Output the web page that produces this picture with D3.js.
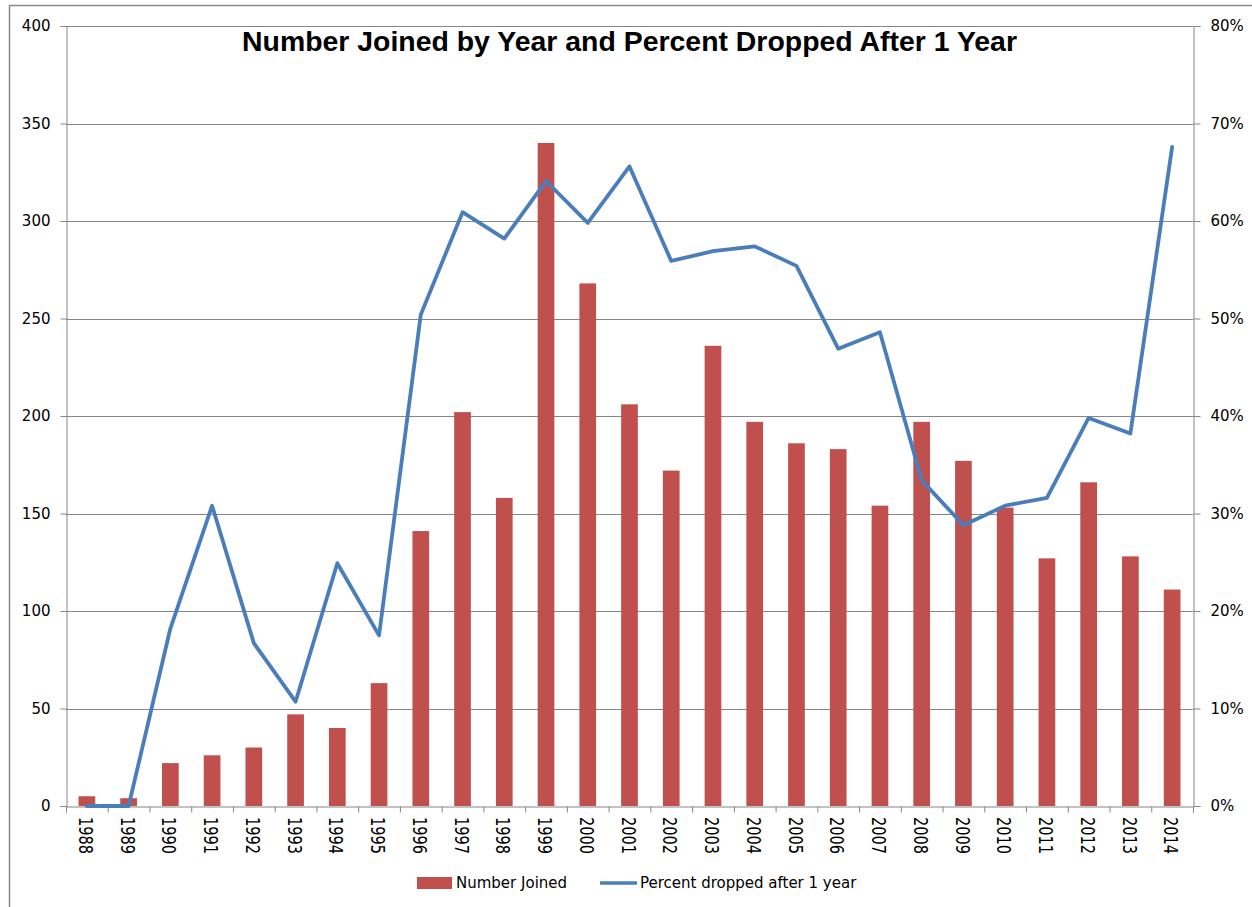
<!DOCTYPE html>
<html>
<head>
<meta charset="utf-8">
<script src="https://cdn.jsdelivr.net/npm/d3@7"></script>
<style>
  body { margin: 0; background: #fff; }
  svg { display: block; }
</style>
</head>
<body>
<svg width="1252" height="907"></svg>
<script>
// data
var years = ["1988","1989","1990","1991","1992","1993","1994","1995","1996","1997","1998","1999","2000",
  "2001","2002","2003","2004","2005","2006","2007","2008","2009","2010","2011","2012","2013","2014"];
var joined = [5,4,22,26,30,47,40,63,141,202,158,340,268,206,172,236,197,186,183,154,197,177,153,127,166,128,111];
var dropped = [0,0,18.2,30.8,16.7,10.7,24.9,17.5,50.4,60.9,58.2,64.1,59.8,65.6,55.9,56.9,57.4,55.4,46.9,48.6,33.4,28.8,30.8,31.6,39.8,38.2,67.6];
var leftTicks = [0,50,100,150,200,250,300,350,400];
var rightTicks = [0,10,20,30,40,50,60,70,80];

var svg = d3.select("svg");
var pLeft = 66, pRight = 1193, pTop = 26, pBottom = 806;
var axisColor = "#868686";
var font = "DejaVu Sans, sans-serif";

// chart frame
svg.append("rect")
  .attr("x", 9.5).attr("y", 5.5).attr("width", 1300).attr("height", 1000)
  .attr("fill", "#fff").attr("stroke", "#8c8c8c").attr("stroke-width", 1.5);

//scales
var x = d3.scaleBand().domain(years).range([pLeft, pRight]).paddingInner(0.6).paddingOuter(0.3);
var xEdge = d3.scaleLinear().domain([0, years.length]).range([pLeft, pRight]);
var y = d3.scaleLinear().domain([0, 400]).range([pBottom, pTop]);
var y2 = d3.scaleLinear().domain([0, 80]).range([pBottom, pTop]);

// gridlines
svg.append("g").selectAll("line")
  .data(leftTicks.slice(1))
  .enter().append("line")
    .attr("x1", pLeft).attr("x2", pRight)
    .attr("y1", function(d){ return Math.round(y(d)) + 0.5; })
    .attr("y2", function(d){ return Math.round(y(d)) + 0.5; })
    .attr("stroke", axisColor).attr("stroke-width", 1);

// bars
svg.append("g").selectAll("rect")
  .data(joined)
  .enter().append("rect")
    .attr("x", function(d, i){ return x(years[i]); })
    .attr("width", x.bandwidth())
    .attr("y", function(d){ return y(d); })
    .attr("height", function(d){ return pBottom - y(d); })
    .attr("fill", "#C0504D");

// left axis
var gLeft = svg.append("g").attr("transform", "translate(" + (pLeft + 0.5) + ",0)")
  .call(d3.axisLeft(y).tickValues(leftTicks).tickSize(6).tickPadding(10));
// right axis
var gRight = svg.append("g").attr("transform", "translate(" + (pRight + 0.5) + ",0)")
  .call(d3.axisRight(y2).tickValues(rightTicks).tickSize(7).tickPadding(10)
    .tickFormat(function(d){ return d + "%"; }));
// bottom axis (tick marks on category edges)
var gBottom = svg.append("g").attr("transform", "translate(0," + (pBottom + 0.5) + ")")
  .call(d3.axisBottom(xEdge).tickValues(d3.range(years.length + 1)).tickSize(6).tickFormat(""));

[gLeft, gRight, gBottom].forEach(function(g){
  g.select(".domain").attr("stroke", axisColor);
  g.selectAll(".tick line").attr("stroke", axisColor);
  g.selectAll("text").attr("font-family", font).attr("font-size", 15).attr("fill", "#000");
});

// year labels, rotated
svg.append("g").selectAll("text")
  .data(years)
  .enter().append("text")
    .attr("transform", function(d){
      return "translate(" + (x(d) + x.bandwidth() / 2 - 1) + ",817) rotate(90) scale(1,1.35)";
    })
    .attr("dy", "0.35em")
    .attr("font-family", font).attr("font-size", 14.5)
    .text(function(d){ return d; });

// line
var line = d3.line()
  .x(function(d, i){ return x(years[i]) + x.bandwidth() / 2; })
  .y(function(d){ return y2(d); });
svg.append("path")
  .datum(dropped)
  .attr("d", line)
  .attr("fill", "none")
  .attr("stroke", "#4A7EBB")
  .attr("stroke-width", 3.8)
  .attr("stroke-linejoin", "round")
  .attr("stroke-linecap", "round");

// title
svg.append("text")
  .attr("x", (pLeft + pRight) / 2).attr("y", 51)
  .attr("text-anchor", "middle")
  .attr("font-family", "Liberation Sans, Arial, sans-serif")
  .attr("font-weight", "bold").attr("font-size", 28)
  .attr("textLength", 775).attr("lengthAdjust", "spacingAndGlyphs")
  .text("Number Joined by Year and Percent Dropped After 1 Year");

// legend
var legend = svg.append("g");
legend.append("rect").attr("x", 417).attr("y", 877).attr("width", 35).attr("height", 12).attr("fill", "#C0504D");
legend.append("text").attr("x", 456).attr("y", 888)
  .attr("font-family", font).attr("font-size", 15).text("Number Joined");
legend.append("line").attr("x1", 600).attr("x2", 637).attr("y1", 883).attr("y2", 883)
  .attr("stroke", "#4A7EBB").attr("stroke-width", 3.5);
legend.append("text").attr("x", 640).attr("y", 888)
  .attr("font-family", font).attr("font-size", 15).text("Percent dropped after 1 year");
</script>
</body>
</html>
